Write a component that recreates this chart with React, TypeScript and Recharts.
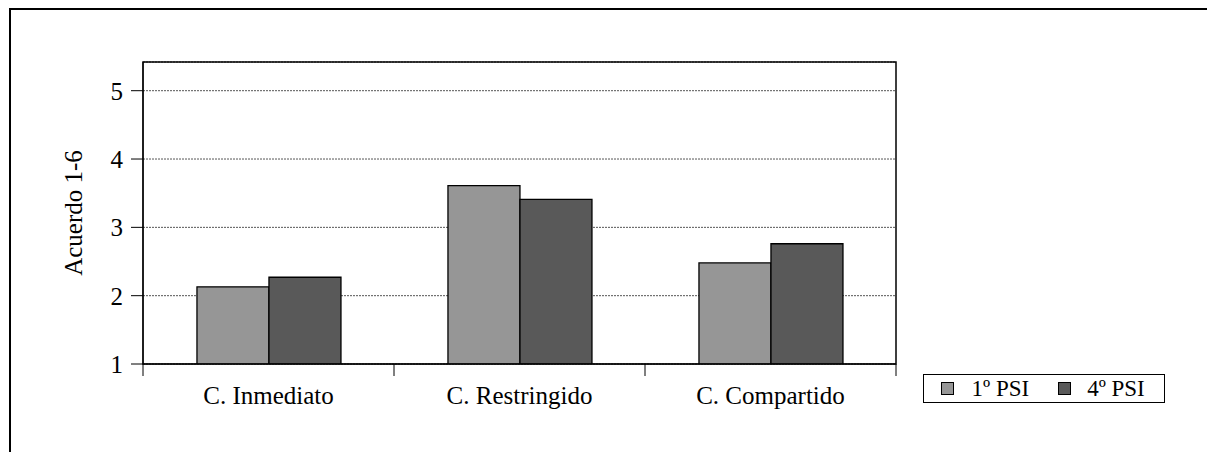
import React from "react";
import {
  BarChart,
  Bar,
  XAxis,
  YAxis,
  CartesianGrid,
  Legend,
  ReferenceArea,
  Label,
} from "recharts";

const categories = ["C. Inmediato", "C. Restringido", "C. Compartido"];
const psi1 = [2.13, 3.61, 2.48];
const psi4 = [2.27, 3.41, 2.76];
const yTicks = [1, 2, 3, 4, 5];
const yMax = 5.42;

const FONT = '"Liberation Serif", "Times New Roman", serif';

const rows = categories.map((name, i) => ({ name, psi1: psi1[i], psi4: psi4[i] }));

// category label plus tick marks on the band edges (Excel style)
function CategoryTick(props: any) {
  const { x, y, payload, index, visibleTicksCount } = props;
  const half = payload?.offset ?? 0;
  return (
    <g>
      <line x1={x - half} x2={x - half} y1={y} y2={y + 12} stroke="#000" />
      {index === visibleTicksCount - 1 && (
        <line x1={x + half} x2={x + half} y1={y} y2={y + 12} stroke="#000" />
      )}
      <text x={x} y={y + 40} textAnchor="middle" fontFamily={FONT} fontSize={25} fill="#000">
        {payload.value}
      </text>
    </g>
  );
}

function LegendBox(props: any) {
  const items = props.payload || [];
  return (
    <div
      style={{
        boxSizing: "border-box",
        width: 242,
        height: 29,
        border: "1.5px solid #000",
        display: "flex",
        alignItems: "center",
        paddingLeft: 16.5,
        fontFamily: FONT,
        fontSize: 23,
        color: "#000",
        background: "#fff",
      }}
    >
      {items.map((it: any, i: number) => (
        <span key={i} style={{ display: "flex", alignItems: "center", marginRight: i === 0 ? 29 : 0 }}>
          <span
            style={{
              display: "inline-block",
              boxSizing: "border-box",
              width: 13,
              height: 13,
              background: it.color,
              border: "1px solid #000",
              marginRight: i === 0 ? 18 : 16,
            }}
          />
          <span style={{ lineHeight: "27px" }}>{it.value}</span>
        </span>
      ))}
    </div>
  );
}

export default function App() {
  return (
    <div style={{ position: "relative", width: 1207, height: 444 }}>
      <BarChart
        width={1207}
        height={444}
        data={rows}
        margin={{ top: 54, right: 319, bottom: 0, left: 0 }}
        barCategoryGap="21.5%"
        barGap={0}
      >
        <CartesianGrid vertical={false} stroke="#555" strokeDasharray="2 1" />
        <XAxis
          dataKey="name"
          interval={0}
          height={88}
          tickLine={false}
          tickSize={0}
          tickMargin={0}
          axisLine={{ stroke: "#000" }}
          tick={<CategoryTick />}
        />
        <YAxis
          type="number"
          domain={[1, yMax]}
          ticks={yTicks}
          allowDataOverflow
          width={135}
          tickSize={12}
          tickMargin={8}
          tickLine={{ stroke: "#000" }}
          axisLine={{ stroke: "#000" }}
          tick={{ fill: "#000", fontFamily: FONT, fontSize: 25 }}
        >
          <Label
            content={(p: any) => {
              const vb = p.viewBox || {};
              const cx = 74;
              const cy = vb.y + vb.height / 2;
              return (
                <text
                  x={cx}
                  y={cy}
                  transform={`rotate(-90, ${cx}, ${cy})`}
                  textAnchor="middle"
                  fontFamily={FONT}
                  fontSize={25}
                  fill="#000"
                >
                  Acuerdo 1-6
                </text>
              );
            }}
          />
        </YAxis>
        <ReferenceArea y1={1} y2={yMax} fill="none" stroke="#000" strokeWidth={1.5} ifOverflow="visible" />
        <Legend
          layout="horizontal"
          verticalAlign="middle"
          align="center"
          content={<LegendBox />}
          wrapperStyle={{ left: 915, top: 366, width: 242, height: 29 }}
        />
        <Bar dataKey="psi1" name="1º PSI" fill="#969696" stroke="#000" strokeWidth={1.3} isAnimationActive={false} />
        <Bar dataKey="psi4" name="4º PSI" fill="#595959" stroke="#000" strokeWidth={1.3} isAnimationActive={false} />
      </BarChart>
      <div
        style={{
          position: "absolute",
          left: 1,
          top: 0,
          width: 1206,
          height: 444,
          borderTop: "2px solid #000",
          borderLeft: "2px solid #000",
          boxSizing: "border-box",
          pointerEvents: "none",
        }}
      />
    </div>
  );
}
